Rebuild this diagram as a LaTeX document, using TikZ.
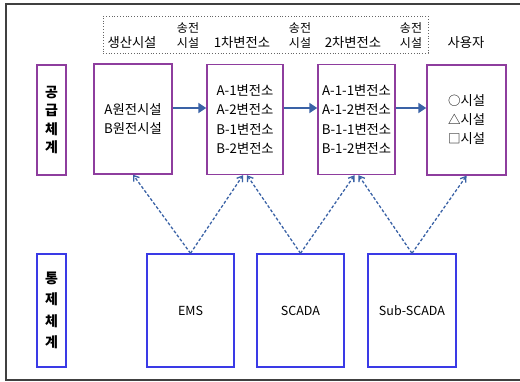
\documentclass[tikz,border=0pt]{standalone}
\usepackage{fontspec}
\setmainfont{Noto Sans CJK KR}
\usetikzlibrary{arrows.meta}
\definecolor{purp}{HTML}{8E3D9E}
\definecolor{bbox}{HTML}{3A3AE6}
\definecolor{arr}{HTML}{3A62A6}
\newcommand{\symb}[1]{{\fontsize{12.5}{12.5}\selectfont\raisebox{0.5pt}{#1}}}
\tikzset{
  supply/.style={draw=purp, line width=1.4pt, minimum height=110pt, inner sep=0pt, align=center, font=\fontsize{13.3}{19.5}\selectfont},
  ctrl/.style={draw=bbox, line width=1.4pt, minimum height=113pt, inner sep=0pt, align=center, font=\fontsize{12.5}{14}\selectfont},
  flow/.style={draw=arr, line width=2.6pt, -{Triangle[length=8pt,width=10pt]}},
  link/.style={draw=arr, line width=1.3pt, dash pattern=on 3pt off 2pt, -{Straight Barb[length=5pt,width=7pt]}},
  hdr/.style={font=\fontsize{13.3}{15}\selectfont, inner sep=0pt, align=center},
  hdrs/.style={font=\fontsize{12}{15}\selectfont, inner sep=0pt, align=center},
}
\begin{document}
\begin{tikzpicture}[x=1pt,y=-1pt]
\useasboundingbox (0,0) rectangle (520,381);
\draw[line width=1.2pt, black!75] (521,4) -- (6,4) -- (6,380) -- (521,380);
% header
\node[draw=black!60, dotted, line width=0.8pt, minimum width=325pt, minimum height=37pt, inner sep=0pt] (hbox) at (265.5,34.5) {};
\node[hdr] (h1) at (132,43) {생산시설};
\node[hdrs] (h2) at (188,36) {송전\\시설};
\node[hdr] (h3) at (242,43) {1차변전소};
\node[hdrs] (h4) at (300,36) {송전\\시설};
\node[hdr] (h5) at (353,43) {2차변전소};
\node[hdrs] (h6) at (411,36) {송전\\시설};
\node[hdr] (h7) at (466,43) {사용자};
% supply
\node[supply, minimum width=29pt, font=\fontsize{14}{18.3}\selectfont\bfseries] (sl) at (51.5,120) {공\\급\\체\\계};
\node[supply, minimum width=78pt] (b0) at (133,119) {A원전시설\\B원전시설};
\node[supply, minimum width=76pt] (b1) at (245,119.5) {A-1변전소\\A-2변전소\\B-1변전소\\B-2변전소};
\node[supply, minimum width=77pt] (b2) at (356.5,119.5) {A-1-1변전소\\A-1-2변전소\\B-1-1변전소\\B-1-2변전소};
\node[supply, minimum width=79pt, font=\fontsize{13.3}{19}\selectfont] (b3) at (466.5,120) {\symb{○}시설\\\symb{△}시설\\\symb{□}시설};
\draw[flow] (b0.east |- 0,108) -- (b1.west |- 0,108);
\draw[flow] (b1.east |- 0,108) -- (b2.west |- 0,108);
\draw[flow] (b2.east |- 0,108) -- (b3.west |- 0,108);
% control
\node[ctrl, minimum width=29pt, font=\fontsize{14}{21.5}\selectfont\bfseries] (cl) at (51.5,310.5) {통\\제\\체\\계};
\node[ctrl, minimum width=87pt] (c1) at (190.5,310.5) {EMS};
\node[ctrl, minimum width=87pt] (c2) at (300.5,310.5) {SCADA};
\node[ctrl, minimum width=88pt] (c3) at (412,310.5) {Sub-SCADA};
\draw[link] (c1.north) -- (b0.south);
\draw[link] (c1.north) -- ([xshift=-2pt]b1.south);
\draw[link] (c2.north) -- ([xshift=2pt]b1.south);
\draw[link] (c2.north) -- ([xshift=-2pt]b2.south);
\draw[link] (c3.north) -- ([xshift=2pt]b2.south);
\draw[link] (c3.north) -- (b3.south);
\end{tikzpicture}
\end{document}
